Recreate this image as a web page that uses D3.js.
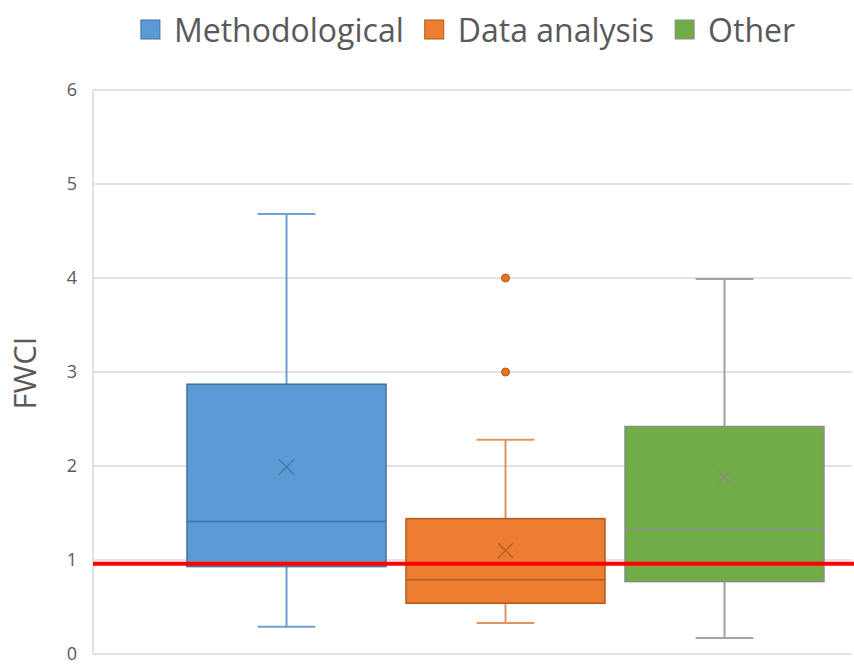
<!DOCTYPE html>
<html>
<head>
<meta charset="utf-8">
<script src="https://cdn.jsdelivr.net/npm/d3@7"></script>
<style>
  html, body { margin: 0; padding: 0; background: #fff; }
  svg { display: block; }
  text { font-family: "Open Sans", "Noto Sans", sans-serif; fill: #595959; }
</style>
</head>
<body>
<svg id="chart" width="854" height="664"></svg>
<script>
// ---- data ----
const series = ["Methodological", "Data analysis", "Other"];
const whiskerLow  = [0.29, 0.33, 0.17];
const q1          = [0.93, 0.54, 0.77];
const median      = [1.41, 0.79, 1.33];
const q3          = [2.87, 1.44, 2.42];
const whiskerHigh = [4.68, 2.28, 3.99];
const mean        = [1.99, 1.10, 1.88];
const outliers    = [[], [3.0, 4.0], []];
const referenceValue = 0.96;
const yTicks = [0, 1, 2, 3, 4, 5, 6];
const yLabel = "FWCI";

// ---- styles ----
const fills   = ["#5B9BD5", "#ED7D31", "#70AD47"];
const strokes = ["#41719C", "#AE5A21", "#8C8C8C"];
const whiskerColors = ["#6E9FCF", "#E1945F", "#A3A3A3"];
const meanColors = ["#4A7AAA", "#B8652D", "#8A8A8A"];

const svg = d3.select("#chart");
const plotLeft = 93, plotRight = 852;

const y = d3.scaleLinear().domain([0, 6]).range([654, 90]);
const x = d3.scaleBand().domain(series).range([177, 834])
  .paddingInner(0.0913).paddingOuter(0.0457);

// gridlines
svg.append("g").selectAll("line").data(yTicks.filter(d => d > 0)).join("line")
  .attr("x1", plotLeft).attr("x2", plotRight)
  .attr("y1", d => y(d)).attr("y2", d => y(d))
  .attr("stroke", "#D9D9D9").attr("stroke-width", 1.5);

// axes lines
svg.append("line").attr("x1", plotLeft).attr("x2", plotLeft)
  .attr("y1", y(6)).attr("y2", y(0)).attr("stroke", "#D9D9D9").attr("stroke-width", 1.5);
svg.append("line").attr("x1", plotLeft).attr("x2", plotRight)
  .attr("y1", y(0)).attr("y2", y(0)).attr("stroke", "#D9D9D9").attr("stroke-width", 1.5);

// y axis tick labels
const yAxis = d3.axisLeft(y).tickValues(yTicks).tickSize(0).tickPadding(0).tickFormat(d3.format("d"));
const yg = svg.append("g").attr("transform", `translate(77,0)`).call(yAxis);
yg.select(".domain").remove();
yg.selectAll("text").style("font-size", "18px").attr("fill", "#595959")
  .style("font-family", '"Open Sans", sans-serif');

// y label
svg.append("text")
  .attr("transform", `translate(36,373) rotate(-90)`)
  .attr("text-anchor", "middle")
  .style("font-size", "31px")
  .text(yLabel);

// boxes
const boxes = svg.append("g");
series.forEach((s, i) => {
  const g = boxes.append("g");
  const x0 = x(s), bw = x.bandwidth(), cx = x0 + bw / 2;
  const capW = bw * 0.29;
  // whiskers
  g.append("line").attr("x1", cx).attr("x2", cx).attr("y1", y(whiskerHigh[i])).attr("y2", y(q3[i]))
    .attr("stroke", whiskerColors[i]).attr("stroke-width", 2);
  g.append("line").attr("x1", cx).attr("x2", cx).attr("y1", y(q1[i])).attr("y2", y(whiskerLow[i]))
    .attr("stroke", whiskerColors[i]).attr("stroke-width", 2);
  g.append("line").attr("x1", cx - capW / 2).attr("x2", cx + capW / 2)
    .attr("y1", y(whiskerHigh[i])).attr("y2", y(whiskerHigh[i]))
    .attr("stroke", whiskerColors[i]).attr("stroke-width", 2);
  g.append("line").attr("x1", cx - capW / 2).attr("x2", cx + capW / 2)
    .attr("y1", y(whiskerLow[i])).attr("y2", y(whiskerLow[i]))
    .attr("stroke", whiskerColors[i]).attr("stroke-width", 2);
  // box
  g.append("rect").attr("x", x0).attr("width", bw)
    .attr("y", y(q3[i])).attr("height", y(q1[i]) - y(q3[i]))
    .attr("fill", fills[i]).attr("stroke", strokes[i]).attr("stroke-width", 1.5);
  // median
  g.append("line").attr("x1", x0).attr("x2", x0 + bw)
    .attr("y1", y(median[i])).attr("y2", y(median[i]))
    .attr("stroke", strokes[i]).attr("stroke-width", 1.5);
  // mean X
  const my = y(mean[i]), m = 7.5;
  g.append("path").attr("d", `M${cx - m},${my - m}L${cx + m},${my + m}M${cx - m},${my + m}L${cx + m},${my - m}`)
    .attr("stroke", meanColors[i]).attr("stroke-width", 1.5).attr("fill", "none");
  // outliers
  g.selectAll("circle").data(outliers[i]).join("circle")
    .attr("cx", cx).attr("cy", d => y(d)).attr("r", 4)
    .attr("fill", "#E8741F").attr("stroke", strokes[i]).attr("stroke-width", 1);
});

// reference line
svg.append("line").attr("x1", plotLeft).attr("x2", 854)
  .attr("y1", y(referenceValue)).attr("y2", y(referenceValue))
  .attr("stroke", "#FF0000").attr("stroke-width", 4);

// legend
const legend = svg.append("g");
const legendFontSize = 32;
let cursor = 0;
series.forEach((s, i) => {
  const it = legend.append("g");
  it.append("rect").attr("x", 0).attr("y", -10).attr("width", 19).attr("height", 19)
    .attr("fill", fills[i]).attr("stroke", strokes[i]).attr("stroke-width", 1);
  const t = it.append("text").attr("x", 33).attr("y", 1).attr("dy", "0.35em")
    .style("font-size", legendFontSize + "px").text(s);
  const w = 33 + t.node().getComputedTextLength();
  it.attr("transform", `translate(${cursor},29)`);
  cursor += w + 21;
});
const totalW = cursor - 21;
legend.attr("transform", `translate(${468 - totalW / 2},1)`);
</script>
</body>
</html>
